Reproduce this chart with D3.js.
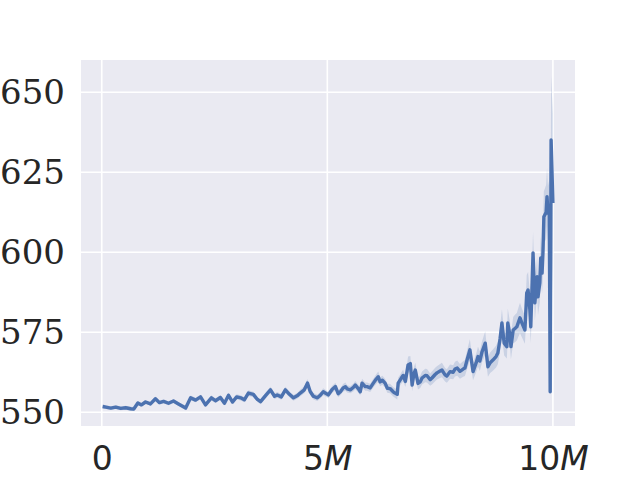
<!DOCTYPE html>
<html>
  <head>
    <meta charset="utf-8">
    <script src="https://d3js.org/d3.v7.min.js"></script>
    <style>
      body { margin: 0; background: #fff; }
      svg { display: block; }
    </style>
  </head>
<body>
<script type="text/javascript">

  // timesteps (millions)
  var steps = [0.02, 0.09, 0.20, 0.31, 0.42, 0.53, 0.64, 0.71, 0.80, 0.88,
    0.97, 1.08, 1.19, 1.28, 1.37, 1.48, 1.59, 1.70, 1.86, 1.97,
    2.08, 2.19, 2.30, 2.43, 2.52, 2.63, 2.72, 2.81, 2.90, 2.99,
    3.08, 3.16, 3.25, 3.36, 3.45, 3.52, 3.63, 3.74, 3.83, 3.89,
    3.98, 4.07, 4.16, 4.25, 4.34, 4.40, 4.49, 4.56, 4.62, 4.69,
    4.78, 4.85, 4.91, 4.98, 5.02, 5.11, 5.18, 5.24, 5.29, 5.35,
    5.40, 5.44, 5.51, 5.58, 5.62, 5.69, 5.73, 5.77, 5.84, 5.88,
    5.95, 6.02, 6.08, 6.13, 6.17, 6.22, 6.28, 6.33, 6.39, 6.46,
    6.50, 6.55, 6.57, 6.62, 6.66, 6.68, 6.73, 6.79, 6.84, 6.88,
    6.92, 6.95, 7.01, 7.06, 7.10, 7.17, 7.21, 7.28, 7.32, 7.39,
    7.43, 7.50, 7.54, 7.61, 7.65, 7.72, 7.79, 7.83, 7.88, 7.94,
    8.01, 8.05, 8.10, 8.16, 8.23, 8.30, 8.34, 8.38, 8.43, 8.50,
    8.56, 8.61, 8.67, 8.74, 8.78, 8.83, 8.87, 8.92, 8.98, 9.00,
    9.05, 9.07, 9.12, 9.16, 9.20, 9.27, 9.31, 9.38, 9.42, 9.45,
    9.49, 9.51, 9.56, 9.60, 9.65, 9.67, 9.71, 9.73, 9.76, 9.78,
    9.80, 9.85, 9.87, 9.89, 9.92, 9.94, 9.96, 10.00];

  // mean value
  var values = [551.8, 551.6, 551.3, 551.6, 551.2, 551.4, 551.1, 551.0, 552.9, 552.3,
    553.2, 552.6, 554.2, 553.0, 553.4, 552.8, 553.5, 552.6, 551.3, 554.5,
    553.8, 554.8, 552.3, 554.5, 553.6, 554.6, 552.8, 555.3, 553.2, 554.8,
    554.5, 553.9, 556.0, 555.6, 554.0, 553.3, 555.2, 557.0, 555.0, 555.4,
    554.8, 557.0, 555.6, 554.5, 555.2, 556.0, 557.0, 559.1, 556.5, 555.0,
    554.5, 555.4, 556.4, 555.8, 555.4, 557.2, 558.0, 555.8, 556.4, 557.6,
    558.0, 557.3, 557.0, 557.8, 558.5, 557.3, 556.4, 559.1, 558.0, 558.0,
    557.6, 559.1, 560.3, 561.1, 559.5, 560.0, 559.1, 557.5, 557.4, 556.4,
    556.0, 555.6, 559.1, 560.2, 561.1, 561.5, 559.6, 564.8, 565.2, 558.5,
    562.0, 563.2, 559.0, 559.5, 560.7, 561.5, 561.4, 560.2, 560.7, 561.8,
    562.3, 562.9, 563.2, 561.7, 561.3, 562.7, 562.5, 563.5, 563.8, 562.8,
    563.5, 563.8, 566.5, 569.5, 562.7, 565.5, 567.4, 566.0, 568.9, 571.6,
    564.2, 565.5, 566.3, 567.4, 568.5, 573.0, 577.9, 571.6, 570.5, 577.9,
    574.0, 570.5, 575.7, 576.2, 576.7, 579.5, 578.0, 575.7, 587.3, 588.2,
    582.0, 576.7, 599.8, 584.2, 592.4, 586.1, 590.5, 598.2, 593.5, 600.0,
    611.1, 612.5, 617.4, 612.2, 613.2, 556.4, 635.1, 615.4];

  // half width of the confidence band
  var ci = [0.6, 0.6, 0.6, 0.6, 0.6, 0.6, 0.6, 0.6, 0.6, 0.6,
    0.6, 0.6, 0.7, 0.6, 0.6, 0.6, 0.6, 0.6, 0.7, 0.7,
    0.7, 0.7, 0.7, 0.8, 0.7, 0.8, 0.7, 0.8, 0.7, 0.8,
    0.8, 0.8, 0.9, 0.8, 0.8, 0.8, 0.9, 1.0, 0.9, 0.9,
    0.9, 1.0, 0.9, 0.9, 0.9, 1.0, 1.1, 1.3, 1.0, 1.0,
    1.0, 1.0, 1.1, 1.0, 1.0, 1.1, 1.2, 1.1, 1.1, 1.2,
    1.3, 1.1, 1.1, 1.2, 1.3, 1.2, 1.2, 1.4, 1.3, 1.3,
    1.3, 1.4, 1.5, 1.6, 1.4, 1.4, 1.4, 1.4, 1.5, 1.5,
    1.5, 1.6, 1.7, 1.7, 1.8, 1.8, 1.7, 2.6, 2.4, 1.9,
    2.1, 2.3, 1.9, 1.9, 2.0, 2.1, 2.1, 1.9, 2.0, 2.1,
    2.1, 2.2, 2.3, 2.1, 2.1, 2.2, 2.2, 2.3, 2.4, 2.3,
    2.4, 2.5, 2.9, 3.3, 2.7, 2.9, 3.1, 3.1, 3.3, 3.7,
    3.1, 3.2, 3.3, 3.4, 3.5, 3.9, 4.3, 3.9, 3.7, 4.5,
    4.1, 3.9, 4.1, 4.3, 4.3, 4.7, 4.5, 4.3, 5.6, 5.6,
    5.3, 5.1, 6.6, 5.6, 6.1, 5.7, 6.1, 6.6, 6.3, 7.0,
    8.0, 8.5, 9.0, 8.5, 9.5, 3.0, 20.0, 28.0];

  var xTicks = [0, 5, 10];
  var xTickLabels = ["0", "5", "10"];
  var yTicks = [550, 575, 600, 625, 650];

  var W = 640, H = 480;
  var mLeft = 81, mRight = 575, mTop = 60, mBottom = 426;
  var blue = "#4c72b0";

  var data = steps.map(function (s, i) {
    return { x: s, y: values[i], lo: values[i] - ci[i], hi: values[i] + ci[i] };
  });

  var svg = d3.select("body")
    .append("svg")
      .attr("width", W)
      .attr("height", H);

  var x = d3.scaleLinear().domain([-0.46, 10.49]).range([mLeft, mRight]);
  var y = d3.scaleLinear().domain([545.7, 660.1]).range([mBottom, mTop]);

  // background
  svg.append("rect")
    .attr("x", mLeft).attr("y", mTop)
    .attr("width", mRight - mLeft).attr("height", mBottom - mTop)
    .attr("fill", "#eaeaf2");

  // grid
  var grid = svg.append("g").attr("stroke", "#fff").attr("stroke-width", 1.6);
  grid.selectAll("line.h")
    .data(yTicks)
    .enter()
    .append("line")
      .attr("x1", mLeft).attr("x2", mRight)
      .attr("y1", function (d) { return y(d); })
      .attr("y2", function (d) { return y(d); });
  grid.selectAll("line.v")
    .data(xTicks)
    .enter()
    .append("line")
      .attr("y1", mTop).attr("y2", mBottom)
      .attr("x1", function (d) { return x(d); })
      .attr("x2", function (d) { return x(d); });

  // confidence band + mean line
  svg.append("clipPath").attr("id", "clip")
    .append("rect")
      .attr("x", mLeft).attr("y", mTop)
      .attr("width", mRight - mLeft).attr("height", mBottom - mTop);

  var plot = svg.append("g").attr("clip-path", "url(#clip)");

  plot.append("path")
    .datum(data)
    .attr("fill", blue)
    .attr("fill-opacity", 0.2)
    .attr("d", d3.area()
      .x(function (d) { return x(d.x); })
      .y0(function (d) { return y(d.lo); })
      .y1(function (d) { return y(d.hi); }));

  plot.append("path")
    .datum(data)
    .attr("fill", "none")
    .attr("stroke", blue)
    .attr("stroke-width", 3.4)
    .attr("stroke-linejoin", "round")
    .attr("stroke-linecap", "butt")
    .attr("d", d3.line()
      .x(function (d) { return x(d.x); })
      .y(function (d) { return y(d.y); }));

  // y axis labels
  var yAxis = svg.append("g")
    .attr("transform", "translate(" + (mLeft - 16) + ",0)")
    .call(d3.axisLeft(y).tickValues(yTicks).tickSize(0).tickPadding(0));
  yAxis.select(".domain").remove();
  yAxis.selectAll("text")
    .attr("fill", "#262626")
    .style("font-family", "'DejaVu Serif', serif")
    .style("font-size", "34px");

  // x axis labels, "M" in italic
  var xAxis = svg.append("g")
    .attr("transform", "translate(0," + mBottom + ")")
    .call(d3.axisBottom(x).tickValues(xTicks).tickSize(0).tickPadding(0)
      .tickFormat(function (d, i) { return xTickLabels[i]; }));
  xAxis.select(".domain").remove();
  xAxis.selectAll("text")
    .attr("fill", "#262626")
    .attr("dy", null)
    .attr("y", 44)
    .style("font-family", "'DejaVu Sans', sans-serif")
    .style("font-size", "33px")
    .each(function (d) {
      if (d !== 0) {
        d3.select(this).append("tspan")
          .style("font-style", "italic")
          .text("M");
      }
    });

</script>
</body>
</html>
